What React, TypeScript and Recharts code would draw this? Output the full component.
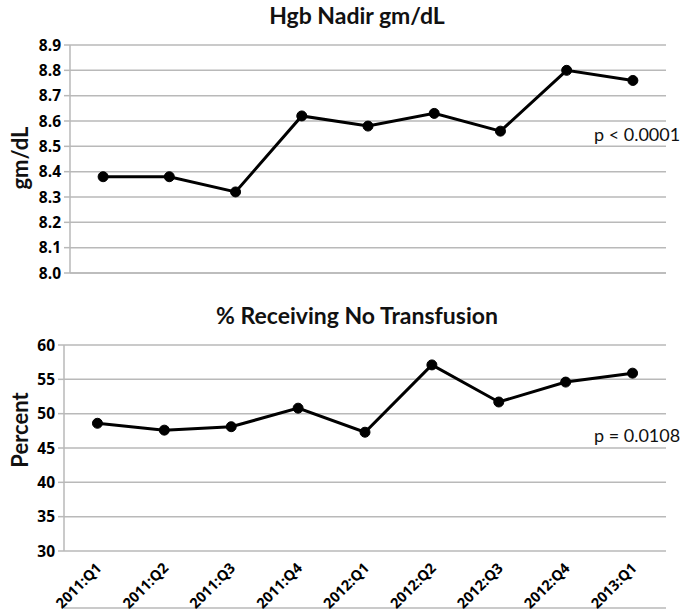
import { LineChart, Line, XAxis, YAxis, CartesianGrid } from 'recharts'

const quarters = ['2011:Q1', '2011:Q2', '2011:Q3', '2011:Q4', '2012:Q1', '2012:Q2', '2012:Q3', '2012:Q4', '2013:Q1']
const hgbNadir = [8.38, 8.38, 8.32, 8.62, 8.58, 8.63, 8.56, 8.8, 8.76]
const pctNoTransfusion = [48.6, 47.6, 48.1, 50.8, 47.3, 57.1, 51.7, 54.6, 55.9]
const hgbTicks = [8.0, 8.1, 8.2, 8.3, 8.4, 8.5, 8.6, 8.7, 8.8, 8.9]
const pctTicks = [30, 35, 40, 45, 50, 55, 60]

const FONT = 'Lato, "Open Sans", sans-serif'
const TICK_FONT = '"Open Sans", Lato, sans-serif'
const GRID = '#b9b9b9'

// positions 0..8 are category centres, the half steps are the boundaries
const rows = quarters.map((q, i) => ({ q, pos: i, hgb: hgbNadir[i], pct: pctNoTransfusion[i] }))
const centreTicks = quarters.map((_, i) => i)
const boundaryTicks = [...quarters.map((_, i) => i - 0.5), quarters.length - 0.5]
const xDomain = [-0.5, quarters.length - 0.5]

function ValueTick(props: any) {
  const { x, y, payload, digits } = props
  return (
    <text x={x} y={y} dy={5.5} textAnchor="end" fontSize={15.5} fontWeight={700} fill="#000" fontFamily={TICK_FONT}>
      {digits ? Number(payload.value).toFixed(digits) : payload.value}
    </text>
  )
}

function QuarterTick(props: any) {
  const { x, y, payload } = props
  const ax = x + 5
  const ay = y + 10
  return (
    <text
      x={ax}
      y={ay}
      transform={`rotate(-45, ${ax}, ${ay})`}
      textAnchor="end"
      fontSize={14.5}
      fontWeight={700}
      fill="#000"
      fontFamily={TICK_FONT}
    >
      {quarters[payload.value]}
    </text>
  )
}

export default function App() {
  return (
    <div style={{ position: 'relative', width: 683, height: 614, background: '#fff', fontFamily: FONT }}>
      <style>{'body{margin:0}'}</style>

      {/* top panel */}
      <div style={s.title(0)}>Hgb Nadir gm/dL</div>
      <div style={s.yLabel(158)}>gm/dL</div>
      <div style={s.pValue(123)}>p &lt; 0.0001</div>
      <div style={{ position: 'absolute', left: 0, top: 0 }}>
        <LineChart width={683} height={300} data={rows} margin={{ top: 45, right: 17, bottom: 0, left: 0 }}>
          <CartesianGrid vertical={false} stroke={GRID} strokeWidth={1.5} />
          <XAxis
            dataKey="pos"
            type="number"
            domain={xDomain}
            ticks={boundaryTicks}
            tick={false}
            height={27}
            tickSize={6}
            stroke={GRID}
            strokeWidth={1.5}
          />
          <YAxis
            type="number"
            domain={[8.0, 8.9]}
            ticks={hgbTicks}
            width={70}
            tickSize={6}
            tickMargin={3}
            stroke={GRID}
            strokeWidth={1.5}
            tick={<ValueTick digits={1} />}
            interval={0}
          />
          <Line
            dataKey="hgb"
            stroke="#000"
            strokeWidth={3}
            dot={{ r: 5, fill: '#000', stroke: '#000', strokeWidth: 1 }}
            isAnimationActive={false}
          />
        </LineChart>
      </div>

      {/* bottom panel */}
      <div style={s.title(300)}>% Receiving No Transfusion</div>
      <div style={s.yLabel(430)}>Percent</div>
      <div style={s.pValue(424)}>p = 0.0108</div>
      <div style={{ position: 'absolute', left: 0, top: 300 }}>
        <LineChart width={683} height={314} data={rows} margin={{ top: 45, right: 17, bottom: 0, left: 0 }}>
          <CartesianGrid vertical={false} stroke={GRID} strokeWidth={1.5} />
          <XAxis
            xAxisId="marks"
            dataKey="pos"
            type="number"
            domain={xDomain}
            ticks={boundaryTicks}
            tick={false}
            height={6}
            tickSize={6}
            stroke={GRID}
            strokeWidth={1.5}
          />
          <XAxis
            xAxisId="labels"
            dataKey="pos"
            type="number"
            domain={xDomain}
            ticks={centreTicks}
            interval={0}
            axisLine={false}
            tickLine={false}
            height={57}
            tick={<QuarterTick />}
          />
          <YAxis
            type="number"
            domain={[30, 60]}
            ticks={pctTicks}
            width={64}
            tickSize={6}
            tickMargin={3}
            stroke={GRID}
            strokeWidth={1.5}
            tick={<ValueTick />}
            interval={0}
          />
          <Line
            xAxisId="marks"
            dataKey="pct"
            stroke="#000"
            strokeWidth={3}
            dot={{ r: 5, fill: '#000', stroke: '#000', strokeWidth: 1 }}
            isAnimationActive={false}
          />
        </LineChart>
      </div>
    </div>
  )
}

const s = {
  title: (top: number) => ({
    position: 'absolute' as const,
    top: top + 1,
    left: 0,
    width: 714,
    textAlign: 'center' as const,
    fontSize: 23,
    fontWeight: 700,
    color: '#111',
    lineHeight: '28px',
  } as React.CSSProperties),

  yLabel: (cy: number) => ({
    position: 'absolute' as const,
    left: 20,
    top: cy,
    transform: 'translate(-50%, -50%) rotate(-90deg)',
    fontSize: 22,
    fontWeight: 700,
    color: '#111',
    whiteSpace: 'nowrap' as const,
    lineHeight: '24px',
  } as React.CSSProperties),

  pValue: (top: number) => ({
    position: 'absolute' as const,
    left: 594,
    top,
    fontSize: 18,
    color: '#111',
    whiteSpace: 'nowrap' as const,
    lineHeight: '22px',
  } as React.CSSProperties),
}
